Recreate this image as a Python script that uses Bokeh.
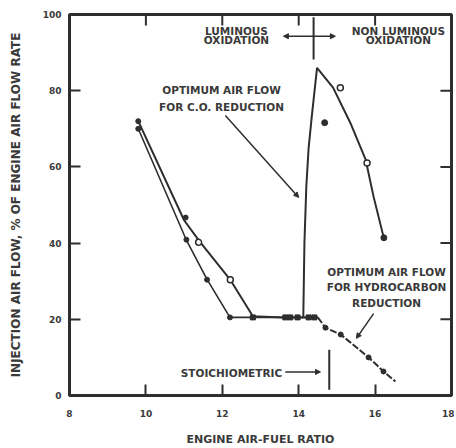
from bokeh.plotting import figure
from bokeh.models import ColumnDataSource, Arrow, NormalHead, FixedTicker, Range1d
from bokeh.core.properties import value
from bokeh.embed import file_html
from bokeh.resources import INLINE

INK = "#2e2e2e"
FONT = "DejaVu Sans"

# ---- data ----
x_ticks = [8, 10, 12, 14, 16, 18]
y_ticks = [0, 20, 40, 60, 80, 100]

# rich side, two runs (outer and inner)
outer_x = [9.8, 11.0, 11.4, 12.2, 12.8, 13.6, 14.5]
outer_y = [72, 46, 40.5, 30.5, 20.8, 20.5, 20.5]
inner_x = [9.8, 11.05, 11.6, 12.2, 13.6, 14.5]
inner_y = [70, 41, 30.5, 20.5, 20.5, 20.5]
outer_open_x = [11.38, 12.21]
outer_open_y = [40.2, 30.4]
inner_dot_x = [9.8, 9.8, 11.04, 11.06, 11.6, 12.2]
inner_dot_y = [72, 70, 46.7, 40.9, 30.4, 20.5]
flat_x = [12.8, 13.65, 13.78, 13.97, 14.26, 14.41]
flat_y = [20.5, 20.5, 20.5, 20.5, 20.5, 20.5]

# CO optimum (peak) curve
peak_x = [14.12, 14.15, 14.2, 14.26, 14.34, 14.48, 14.9, 15.35, 15.75, 15.96, 16.22]
peak_y = [20.5, 40, 55, 65, 73, 86, 80.8, 71.6, 62, 52.2, 41.7]
peak_open_x = [15.09, 15.79]
peak_open_y = [80.8, 61]
peak_dot_x = [14.68, 16.23]
peak_dot_y = [71.6, 41.4]

# HC optimum line
hc_x = [14.5, 14.7, 15.1, 15.83, 16.22, 16.53]
hc_y = [20.5, 17.8, 16.0, 10.0, 6.3, 3.7]
hc_dot_x = [14.7, 15.1, 15.83, 16.22]
hc_dot_y = [17.8, 16.0, 10.0, 6.3]

# annotations
note_x = [12.37, 12.37, 16.61, 16.61, 11.98, 11.98, 16.3, 16.3, 16.3, 12.24]
note_y = [95.8, 93.2, 95.8, 93.2, 80.3, 75.6, 32.5, 28.6, 24.4, 6.0]
note_t = ["LUMINOUS", "OXIDATION", "NON LUMINOUS", "OXIDATION",
          "OPTIMUM AIR FLOW", "FOR C.O. REDUCTION",
          "OPTIMUM AIR FLOW", "FOR HYDROCARBON", "REDUCTION",
          "STOICHIOMETRIC"]

p = figure(width=454, height=448, output_backend="svg", toolbar_location=None,
           x_range=Range1d(8, 18), y_range=Range1d(0, 100),
           min_border_left=69, min_border_right=3, min_border_top=14, min_border_bottom=52)
p.background_fill_color = "white"
p.border_fill_color = "white"
p.xgrid.visible = False
p.ygrid.visible = False
p.outline_line_color = INK
p.outline_line_width = 3

for ax in (p.xaxis[0], p.yaxis[0]):
    ax.axis_line_color = INK
    ax.axis_line_width = 3
    ax.major_tick_in = 11
    ax.major_tick_out = 0
    ax.major_tick_line_color = INK
    ax.major_tick_line_width = 2
    ax.minor_tick_line_color = None
    ax.major_label_text_font = FONT
    ax.major_label_text_font_size = "9px"
    ax.major_label_text_font_style = "bold"
    ax.major_label_text_color = "#3a3a3a"
    ax.axis_label_text_font = FONT
    ax.axis_label_text_font_style = "bold"
    ax.axis_label_text_color = "#3a3a3a"

p.xaxis[0].ticker = FixedTicker(ticks=x_ticks)
p.yaxis[0].ticker = FixedTicker(ticks=y_ticks)
p.xaxis[0].axis_label = "ENGINE AIR-FUEL RATIO"
p.yaxis[0].axis_label = "INJECTION AIR FLOW, % OF ENGINE AIR FLOW RATE"
p.xaxis[0].axis_label_text_font_size = "11px"
p.yaxis[0].axis_label_text_font_size = "12px"
p.xaxis[0].major_label_standoff = 14
p.yaxis[0].major_label_standoff = 8
p.xaxis[0].axis_label_standoff = 13
p.yaxis[0].axis_label_standoff = 17

# inward ticks on top and right frame edges
top_x = x_ticks[1:-1]
p.segment(x0=top_x, y0=[y_ticks[-1]] * len(top_x), x1=top_x, y1=[y_ticks[-1] - 2.9] * len(top_x),
          line_color=INK, line_width=2)
right_y = y_ticks[1:-1]
p.segment(x0=[x_ticks[-1]] * len(right_y), y0=right_y, x1=[x_ticks[-1] - 0.29] * len(right_y), y1=right_y,
          line_color=INK, line_width=2)

# lines
p.line(outer_x, outer_y, line_color=INK, line_width=2)
p.line(inner_x, inner_y, line_color=INK, line_width=1.6)
p.line(peak_x, peak_y, line_color=INK, line_width=2)
p.line(hc_x, hc_y, line_color=INK, line_width=2, line_dash="7 2")

# markers
p.scatter(inner_dot_x, inner_dot_y, marker="circle", size=5, fill_color=INK, line_color=INK)
p.scatter(outer_open_x, outer_open_y, marker="circle", size=6, fill_color="white", line_color=INK, line_width=1.5)
p.scatter(flat_x, flat_y, marker="square", size=5, fill_color=INK, line_color=INK)
p.scatter(peak_open_x, peak_open_y, marker="circle", size=6, fill_color="white", line_color=INK, line_width=1.5)
p.scatter(peak_dot_x, peak_dot_y, marker="circle", size=6, fill_color=INK, line_color=INK)
p.scatter(hc_dot_x, hc_dot_y, marker="circle", size=5, fill_color=INK, line_color=INK)

# texts
src = ColumnDataSource(dict(x=note_x, y=note_y, t=note_t))
p.text(x="x", y="y", text="t", source=src, text_align="center", text_baseline="middle",
       text_font=value(FONT), text_font_size="10.5px", text_font_style="bold", text_color="#3a3a3a")

# divider between luminous / non-luminous
p.line([14.39, 14.39], [99.3, 88.2], line_color=INK, line_width=2)
# stoichiometric marker
p.line([14.8, 14.8], [12, 1.5], line_color=INK, line_width=2)

head = dict(size=5, fill_color=INK, line_color=INK)
p.add_layout(Arrow(x_start=13.6, y_start=94.3, x_end=14.96, y_end=94.3,
                   start=NormalHead(**head), end=NormalHead(**head), line_color=INK, line_width=1.5))
p.add_layout(Arrow(x_start=12.08, y_start=73.5, x_end=14.0, y_end=52,
                   end=NormalHead(**head), line_color=INK, line_width=1.5))
p.add_layout(Arrow(x_start=15.96, y_start=21.5, x_end=15.51, y_end=15.0,
                   end=NormalHead(**head), line_color=INK, line_width=1.5))
p.add_layout(Arrow(x_start=13.65, y_start=6.2, x_end=14.57, y_end=6.2,
                   end=NormalHead(**head), line_color=INK, line_width=1.5))

open("out.html", "w").write(file_html(p, INLINE))
